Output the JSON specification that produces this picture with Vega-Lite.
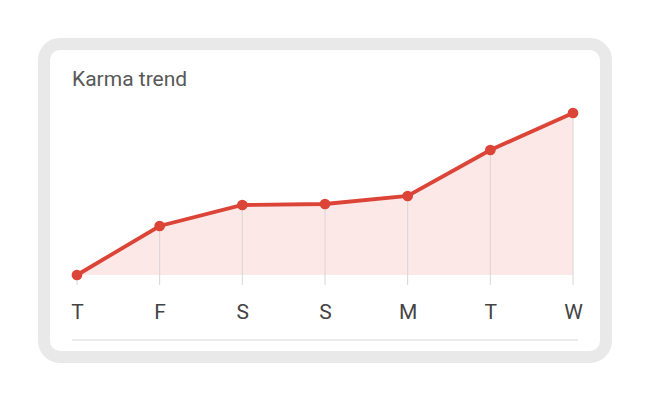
{
  "$schema": "https://vega.github.io/schema/vega-lite/v6.json",
  "autosize": "none",
  "width": 562,
  "height": 313,
  "padding": {"left": 44, "top": 44, "right": 44, "bottom": 43},
  "background": "#ffffff",
  "title": {
    "text": "Karma trend",
    "anchor": "start",
    "frame": "group",
    "offset": -46,
    "dx": 28,
    "font": "Roboto",
    "fontSize": 21,
    "fontWeight": "normal",
    "color": "#585858"
  },
  "config": {
    "view": {"fill": "#ffffff", "stroke": "#e9e9e9", "strokeWidth": 12, "cornerRadius": 16},
    "font": "Roboto"
  },
  "data": {
    "values": [
      {"i": 0, "day": "T", "karma": 0},
      {"i": 1, "day": "F", "karma": 49},
      {"i": 2, "day": "S", "karma": 70},
      {"i": 3, "day": "S", "karma": 71},
      {"i": 4, "day": "M", "karma": 79},
      {"i": 5, "day": "T", "karma": 125},
      {"i": 6, "day": "W", "karma": 162}
    ]
  },
  "encoding": {
    "x": {
      "field": "i",
      "type": "quantitative",
      "scale": {"domain": [-0.399, 6.399], "nice": false, "zero": false},
      "axis": {
        "values": [0, 1, 2, 3, 4, 5, 6],
        "labelExpr": "['T','F','S','S','M','T','W'][datum.value]",
        "title": null,
        "domain": false,
        "ticks": false,
        "grid": false,
        "offset": -57,
        "labelPadding": 1,
        "labelFontSize": 21,
        "labelColor": "#444444",
        "labelFont": "Roboto",
        "labelFlush": false
      }
    }
  },
  "layer": [
    {
      "mark": {"type": "area", "color": "#db4437", "opacity": 0.12},
      "encoding": {
        "y": {"field": "karma", "type": "quantitative", "scale": {"domain": [-82, 231], "nice": false, "zero": false}, "axis": null},
        "y2": {"datum": 0}
      }
    },
    {
      "mark": {"type": "rule", "color": "#d6d6d6", "strokeWidth": 1},
      "encoding": {
        "y": {"field": "karma", "type": "quantitative"},
        "y2": {"datum": -10}
      }
    },
    {
      "mark": {"type": "rule", "color": "#ebebeb", "strokeWidth": 1.5},
      "encoding": {
        "x": {"datum": -0.06},
        "x2": {"datum": 6.06},
        "y": {"datum": -65}
      }
    },
    {
      "mark": {"type": "line", "color": "#db4437", "strokeWidth": 3.8},
      "encoding": {"y": {"field": "karma", "type": "quantitative"}}
    },
    {
      "mark": {"type": "point", "filled": true, "opacity": 1, "color": "#db4437", "size": 115},
      "encoding": {"y": {"field": "karma", "type": "quantitative"}}
    }
  ]
}
